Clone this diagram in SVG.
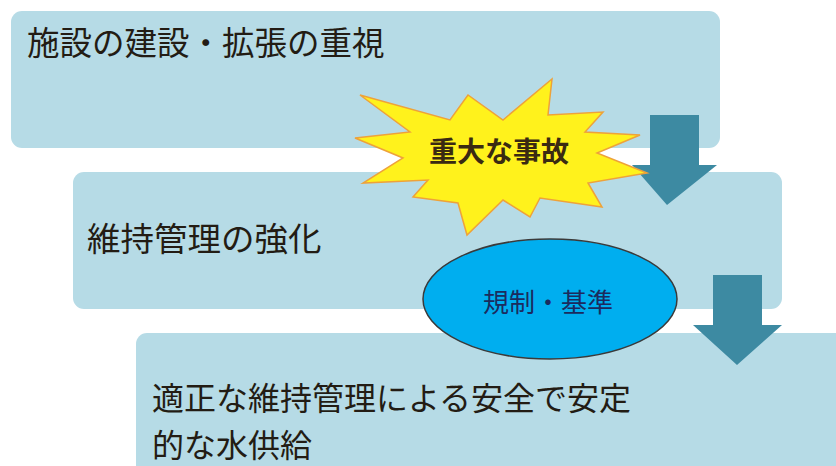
<svg xmlns="http://www.w3.org/2000/svg" width="836" height="466" viewBox="0 0 836 466">
  <defs>
    <style>
      .box { fill: #b6dbe6; }
      .arrow { fill: #3d8aa2; }
      .t { font-family: "Noto Sans CJK JP", "Noto Sans", sans-serif; fill: #231c14; }
    </style>
  </defs>
  <rect width="836" height="466" fill="#ffffff"/>
  <g id="box1">
    <rect class="box" x="11" y="11" width="709" height="137" rx="11"/>
    <text class="t" x="27" y="55" font-size="32.5">施設の建設・拡張の重視</text>
  </g>
  <g id="box2">
    <rect class="box" x="73" y="172" width="709" height="137" rx="11"/>
    <text class="t" x="87" y="251" font-size="33.5">維持管理の強化</text>
  </g>
  <g id="box3">
    <rect class="box" x="136" y="333" width="720" height="150" rx="11"/>
    <text class="t" x="152" y="410" font-size="32">適正な維持管理による安全で安定</text>
    <text class="t" x="152" y="457" font-size="32">的な水供給</text>
  </g>
  <g id="connectors">
    <polygon class="arrow" points="650,115 699,115 699,165 717,165 667,205 632,165 650,165"/>
    <polygon class="arrow" points="713,275 762,275 762,325 782,325 737,365 693,325 713,325"/>
  </g>
  <g id="accident">
    <polygon fill="#fff21c" stroke="#eea23a" stroke-width="1.5" stroke-linejoin="miter" points="360,95 450,120 468,95 503,120 552,79 548,115 603,112 585,132 640,135 597,153 647,173 588,183 602,207 540,198 530,217 503,200 467,235 458,203 413,197 428,180 363,183 403,158 355,138 410,132"/>
    <text x="499" y="162" font-size="28" font-weight="bold" text-anchor="middle" font-family="Noto Sans CJK JP, Noto Sans, sans-serif" fill="#3a2a12">重大な事故</text>
  </g>
  <g id="regulation">
    <ellipse cx="550" cy="299" rx="127" ry="60" fill="#00aeef" stroke="#3a3a3a" stroke-width="1.5"/>
    <text x="548" y="312" font-size="26" text-anchor="middle" font-family="Noto Sans CJK JP, Noto Sans, sans-serif" fill="#1b2b5e">規制・基準</text>
  </g>
</svg>
